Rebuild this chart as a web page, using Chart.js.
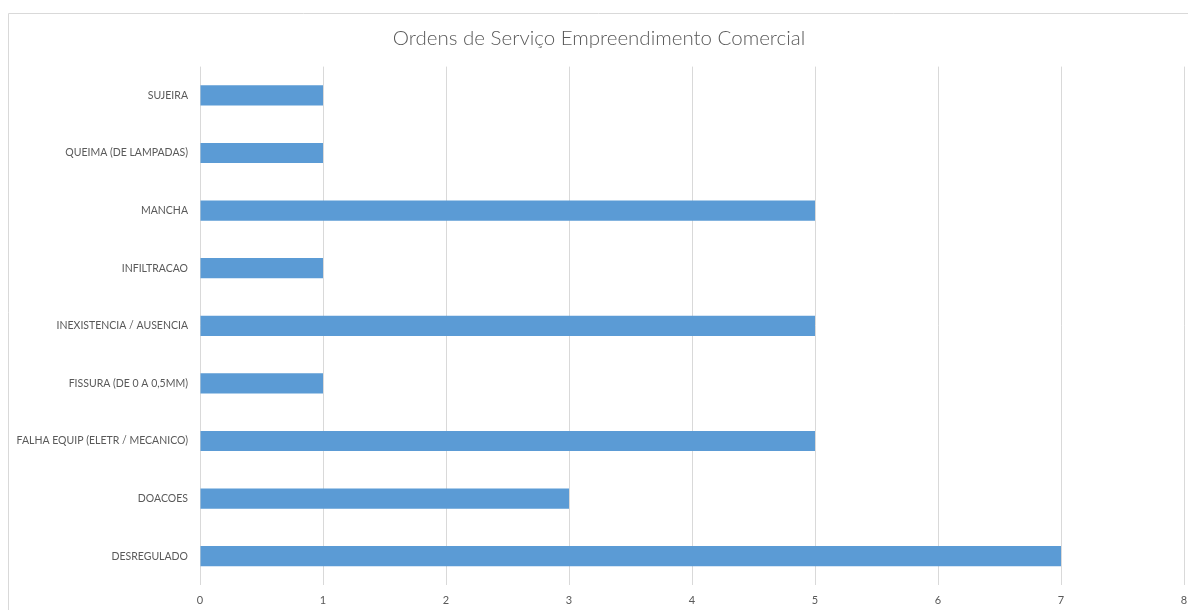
<!DOCTYPE html>
<html>
<head>
<meta charset="utf-8">
<script src="https://cdn.jsdelivr.net/npm/chart.js@4/dist/chart.umd.min.js"></script>
<style>
  html, body { margin: 0; padding: 0; background: #fff; overflow: hidden; }
  #wrap { position: relative; width: 1188px; height: 610px; }
</style>
</head>
<body>
<div id="wrap"><canvas id="ordens-chart" width="1188" height="610"></canvas></div>
<script>
const categorias = [
    'SUJEIRA',
    'QUEIMA (DE LAMPADAS)',
    'MANCHA',
    'INFILTRACAO',
    'INEXISTENCIA / AUSENCIA',
    'FISSURA (DE 0 A 0,5MM)',
    'FALHA EQUIP (ELETR / MECANICO)',
    'DOACOES',
    'DESREGULADO',
];
const ordens = [1, 1, 5, 1, 5, 1, 5, 3, 7];
const eixoX = { min: 0, max: 8, step: 1 };

const textGray = '#595959';
const gridGray = '#d9d9d9';
const baseFont = "Lato, 'Open Sans', sans-serif";

// moldura da área do gráfico (borda cinza clara)
const chartFrame = {
    id: 'chartFrame',
    beforeDraw(chart) {
        const { ctx } = chart;
        ctx.save();
        ctx.strokeStyle = gridGray;
        ctx.lineWidth = 1;
        ctx.beginPath();
        ctx.moveTo(8.5, chart.height + 2);
        ctx.lineTo(8.5, 13.5);
        ctx.lineTo(chart.width + 2, 13.5);
        ctx.stroke();
        ctx.restore();
    },
};

new Chart(document.getElementById('ordens-chart'), {
    type: 'bar',
    data: {
        labels: categorias,
        datasets: [
            {
                data: ordens,
                backgroundColor: '#5b9bd5',
                borderColor: '#5b9bd5',
                borderWidth: 0,
                barPercentage: 0.35,
                categoryPercentage: 1,
            },
        ],
    },
    options: {
        indexAxis: 'y',
        responsive: false,
        animation: false,
        layout: { padding: { left: 14, right: 4, top: 0, bottom: 0 } },
        plugins: {
            legend: { display: false },
            tooltip: { enabled: false },
            title: {
                display: true,
                text: 'Ordens de Serviço Empreendimento Comercial',
                color: textGray,
                font: { family: baseFont, size: 20.5, weight: '300' },
                padding: { top: 26, bottom: 16 },
            },
        },
        scales: {
            x: {
                min: eixoX.min,
                max: eixoX.max,
                grid: { color: gridGray, drawTicks: false },
                border: { display: false },
                ticks: {
                    stepSize: eixoX.step,
                    color: textGray,
                    padding: 9,
                    font: { family: baseFont, size: 11 },
                },
                afterFit(scale) {
                    scale.height = 25;
                    scale.paddingLeft = 0;
                    scale.paddingRight = 0;
                },
            },
            y: {
                grid: { display: false, drawTicks: false },
                border: { display: false },
                ticks: {
                    color: textGray,
                    padding: 12,
                    font: { family: baseFont, size: 10.5 },
                },
                afterFit(scale) {
                    scale.width = 186;
                },
            },
        },
    },
    plugins: [chartFrame],
});
</script>
</body>
</html>
